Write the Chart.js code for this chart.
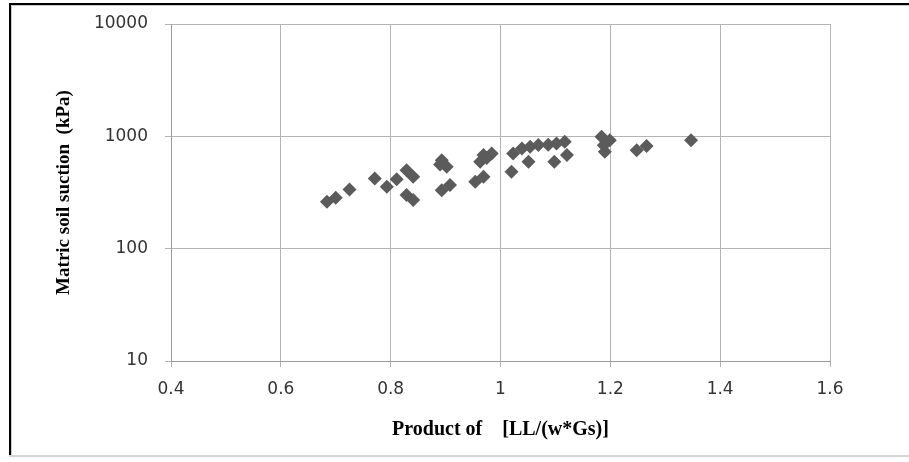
<!DOCTYPE html>
<html>
<head>
<meta charset="utf-8">
<script src="https://cdn.jsdelivr.net/npm/chart.js@4.4.1/dist/chart.umd.min.js"></script>
<style>
  html, body { margin: 0; padding: 0; background: #fff; }
  #wrap { position: relative; width: 909px; height: 462px; }
</style>
</head>
<body>
<div id="wrap"><canvas id="chart" width="909" height="462"></canvas></div>
<script>
// valori
const ratio = [
  0.684, 0.700, 0.725, 0.771, 0.793, 0.811, 0.829, 0.841, 0.829, 0.841,
  0.893, 0.902, 0.890, 0.893, 0.908,
  0.969, 0.984, 0.963, 0.975, 0.954, 0.969,
  1.020, 1.023, 1.039, 1.054, 1.069, 1.051, 1.087, 1.102, 1.117, 1.098, 1.121,
  1.184, 1.199, 1.190, 1.188, 1.248, 1.266, 1.347
];
const suction = [
  261, 284, 337, 422, 356, 414, 500, 436, 300, 271,
  614, 536, 560, 332, 368,
  681, 705, 593, 640, 394, 436,
  483, 705, 780, 807, 836, 593, 840, 865, 893, 593, 681,
  990, 925, 728, 835, 753, 822, 925
];
const xTicks = [0.4, 0.6, 0.8, 1, 1.2, 1.4, 1.6];
const yTicks = [10, 100, 1000, 10000];

const points = ratio.map((r, i) => ({ x: r, y: suction[i] }));

// cornice e sfondo
const framePlugin = {
  id: 'frame',
  beforeDraw(chart) {
    const c = chart.ctx;
    c.save();
    c.fillStyle = '#fff';
    c.fillRect(0, 0, chart.width, chart.height);
    c.fillStyle = '#000';
    c.fillRect(9, 3, chart.width - 9, 2);
    c.fillRect(9, 3, 2, 453);
    c.fillStyle = '#c8c8c8';
    c.fillRect(11, 5, chart.width - 11, 1);
    c.fillRect(11, 5, 1, 450);
    c.fillStyle = '#d4d4d4';
    c.fillRect(9, 455, chart.width - 9, 2);
    c.restore();
  }
};

const ctx = document.getElementById('chart').getContext('2d');
new Chart(ctx, {
  type: 'scatter',
  data: {
    datasets: [{
      data: points,
      pointStyle: 'rectRot',
      pointRadius: 7,
      pointHoverRadius: 7,
      backgroundColor: '#5b5b5b',
      borderColor: '#5b5b5b',
      borderWidth: 0
    }]
  },
  options: {
    responsive: false,
    animation: false,
    events: [],
    layout: { padding: { left: 0, right: 79, top: 24, bottom: 0 } },
    plugins: { legend: { display: false }, tooltip: { enabled: false } },
    scales: {
      x: {
        type: 'linear',
        min: 0.4,
        max: 1.6,
        afterBuildTicks: s => { s.ticks = xTicks.map(v => ({ value: v })); },
        afterFit: s => { s.height = 101; s.paddingLeft = 0; s.paddingRight = 0; },
        grid: { color: '#b4b4b4', lineWidth: 1, tickLength: 6, tickColor: '#b4b4b4' },
        border: { color: '#9a9a9a' },
        ticks: {
          color: '#333',
          font: { family: 'DejaVu Sans', size: 17 },
          padding: 12,
          maxRotation: 0,
          callback: v => String(v)
        },
        title: {
          display: true,
          text: 'Product of    [LL/(w*Gs)]',
          color: '#000',
          font: { family: 'Liberation Serif', size: 20, weight: 'bold' },
          padding: { top: 0, bottom: 20 }
        }
      },
      y: {
        type: 'logarithmic',
        min: 10,
        max: 10000,
        afterBuildTicks: s => { s.ticks = yTicks.map(v => ({ value: v })); },
        afterFit: s => { s.width = 171; s.paddingTop = 0; s.paddingBottom = 0; },
        grid: { color: '#b4b4b4', lineWidth: 1, tickLength: 6, tickColor: '#b4b4b4' },
        border: { color: '#9a9a9a' },
        ticks: {
          color: '#333',
          font: { family: 'DejaVu Sans', size: 17 },
          padding: 17,
          callback: v => String(v)
        },
        title: {
          display: true,
          text: 'Matric soil suction  (kPa)',
          color: '#000',
          font: { family: 'Liberation Serif', size: 19, weight: 'bold' },
          padding: { top: 53, bottom: 0 }
        }
      }
    }
  },
  plugins: [framePlugin]
});
</script>
</body>
</html>
